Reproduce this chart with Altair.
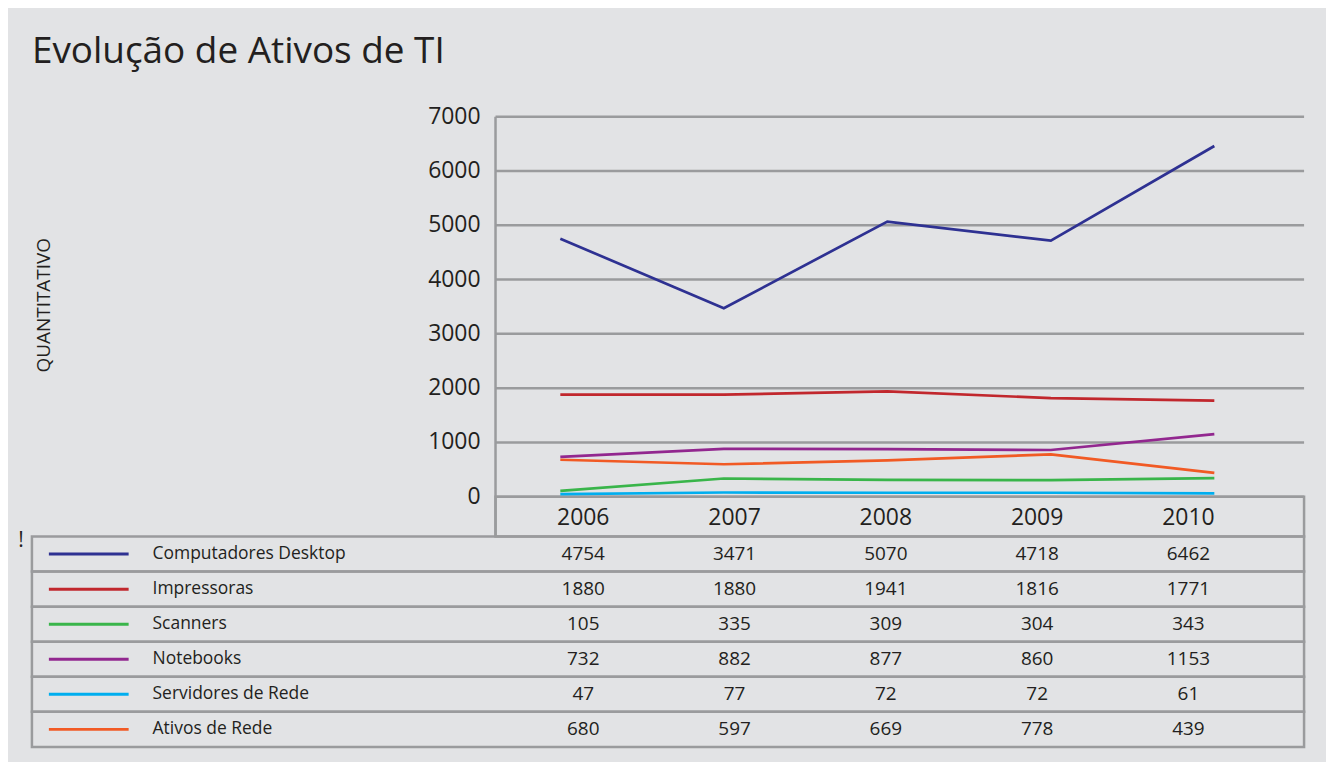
import altair as alt
import pandas as pd

# ---- data ----
title_text = "Evolução de Ativos de TI"
y_title = "QUANTITATIVO"
years = ["2006", "2007", "2008", "2009", "2010"]
series = ["Computadores Desktop", "Impressoras", "Scanners", "Notebooks",
          "Servidores de Rede", "Ativos de Rede"]
desktop = [4754, 3471, 5070, 4718, 6462]
impressoras = [1880, 1880, 1941, 1816, 1771]
scanners = [105, 335, 309, 304, 343]
notebooks = [732, 882, 877, 860, 1153]
servidores = [47, 77, 72, 72, 61]
ativos = [680, 597, 669, 778, 439]
y_ticks = [0, 1000, 2000, 3000, 4000, 5000, 6000, 7000]
colors = ["#2e3192", "#c1272d", "#39b54a", "#92278f", "#00aeef", "#f15a24"]

values = [desktop, impressoras, scanners, notebooks, servidores, ativos]
rows = []
for s, vals in zip(series, values):
    for yr, v in zip(years, vals):
        rows.append({"series": s, "year": yr, "value": v})
df = pd.DataFrame(rows)
df_series = pd.DataFrame({"series": series})
df_years = pd.DataFrame({"year": years})
df_ticks = pd.DataFrame({"tick": y_ticks})
df_title = pd.DataFrame({"t": [title_text]})
df_ytitle = pd.DataFrame({"t": [y_title]})
df_bang = pd.DataFrame({"t": ["!"]})

FONT = "Open Sans"
TXT = "#231f20"
GRID = "#9a9b9d"

color_scale = alt.Scale(domain=series, range=colors)
y_val = alt.Scale(domain=[0, 7000], range=[381, 0], nice=False, zero=True)
row_scale = alt.Scale(domain=series, range=[421, 632], paddingInner=0, paddingOuter=0)
x_line = alt.Scale(type="point", domain=years, range=[530, 1186], padding=0)
x_col = alt.Scale(type="point", domain=years, range=[553, 1160], padding=0)

grid = alt.Chart(df_ticks).mark_rule(color=GRID, strokeWidth=2.5).encode(
    y=alt.Y("tick:Q", scale=y_val, axis=None),
    x=alt.value(465), x2=alt.value(1276),
)
ylabels = alt.Chart(df_ticks).mark_text(
    align="right", baseline="middle", font=FONT, fontSize=23, color=TXT
).encode(
    y=alt.Y("tick:Q", scale=y_val, axis=None),
    x=alt.value(450),
    text=alt.Text("tick:Q", format="d"),
)
yaxis_line = alt.Chart(df_title).mark_rule(color=GRID, strokeWidth=2.5).encode(
    x=alt.value(465), y=alt.value(0), y2=alt.value(421)
)
header_box = alt.Chart(df_title).mark_rect(
    fill=None, stroke=GRID, strokeWidth=2.5
).encode(
    x=alt.value(465), x2=alt.value(1276), y=alt.value(381), y2=alt.value(421)
)
row_box = alt.Chart(df_series).mark_rect(
    fill=None, stroke=GRID, strokeWidth=2.5
).encode(
    y=alt.Y("series:N", scale=row_scale, axis=None, sort=series),
    x=alt.value(0), x2=alt.value(1276),
)
lines = alt.Chart(df).mark_line(strokeWidth=2.7).encode(
    x=alt.X("year:O", scale=x_line, axis=None, sort=years),
    y=alt.Y("value:Q", scale=y_val, axis=None),
    color=alt.Color("series:N", scale=color_scale, legend=None),
)
year_labels = alt.Chart(df_years).mark_text(
    baseline="middle", font=FONT, fontSize=23, color=TXT
).encode(
    x=alt.X("year:O", scale=x_col, axis=None, sort=years),
    y=alt.value(402),
    text="year:N",
)
cell_text = alt.Chart(df).mark_text(
    baseline="middle", font=FONT, fontSize=19, color=TXT
).encode(
    x=alt.X("year:O", scale=x_col, axis=None, sort=years),
    y=alt.Y("series:N", scale=row_scale, axis=None, sort=series,
            bandPosition=0.6),
    text=alt.Text("value:Q", format="d"),
)
swatch = alt.Chart(df_series).mark_rule(strokeWidth=3).encode(
    y=alt.Y("series:N", scale=row_scale, axis=None, sort=series),
    x=alt.value(17), x2=alt.value(97),
    color=alt.Color("series:N", scale=color_scale, legend=None),
)
row_labels = alt.Chart(df_series).mark_text(
    align="left", baseline="middle", font=FONT, fontSize=17.5, color=TXT
).encode(
    y=alt.Y("series:N", scale=row_scale, axis=None, sort=series,
            bandPosition=0.58),
    x=alt.value(121),
    text="series:N",
)
title = alt.Chart(df_title).mark_text(
    align="left", baseline="middle", font=FONT, fontSize=37, color=TXT
).encode(x=alt.value(0), y=alt.value(-65), text="t:N")
ytitle = alt.Chart(df_ytitle).mark_text(
    align="center", baseline="middle", font=FONT, fontSize=19, color=TXT,
    angle=270
).encode(x=alt.value(12), y=alt.value(189), text="t:N")
bang = alt.Chart(df_bang).mark_text(
    align="center", baseline="middle", font=FONT, fontSize=21, color=TXT
).encode(x=alt.value(-11), y=alt.value(425), text="t:N")

chart = alt.layer(
    grid, yaxis_line, header_box, row_box, ylabels, lines, year_labels,
    cell_text, swatch, row_labels, title, ytitle, bang
).resolve_scale(
    x="independent", y="independent", color="independent"
).properties(
    width=1276, height=632,
    autosize=alt.AutoSizeParams(type="none"),
    padding={"left": 24, "top": 108, "right": 22, "bottom": 14},
    background="#e2e3e5",
).configure_view(stroke=None)

chart.save("out.html", embed_options={"renderer": "svg", "actions": False})
